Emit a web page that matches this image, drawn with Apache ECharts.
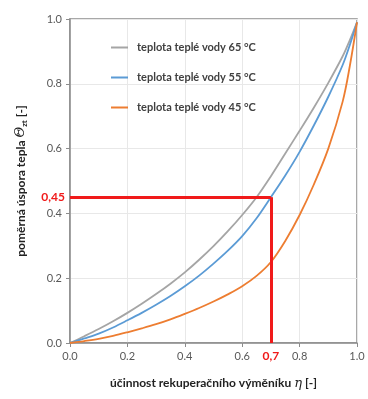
<!DOCTYPE html>
<html>
<head>
<meta charset="utf-8">
<script src="https://cdn.jsdelivr.net/npm/echarts@6/dist/echarts.min.js"></script>
<style>
  html, body { margin: 0; padding: 0; background: #fff; }
  #chart { width: 368px; height: 399px; }
</style>
</head>
<body>
<div id="chart"></div>
<script>
// Heat-recovery efficiency (x) vs. relative heat saving (y)
const efficiency = [0, 0.05, 0.1, 0.15, 0.2, 0.25, 0.3, 0.35, 0.4, 0.45, 0.5, 0.55, 0.6, 0.65, 0.7, 0.75, 0.8, 0.85, 0.9, 0.95, 0.975, 1.0];
const saving65 = [0, 0.021, 0.043, 0.067, 0.093, 0.121, 0.151, 0.183, 0.218, 0.257, 0.299, 0.345, 0.395, 0.45, 0.515, 0.585, 0.655, 0.727, 0.803, 0.885, 0.935, 0.99];
const saving55 = [0, 0.014, 0.029, 0.048, 0.07, 0.093, 0.118, 0.145, 0.175, 0.208, 0.245, 0.285, 0.33, 0.385, 0.45, 0.517, 0.59, 0.672, 0.76, 0.858, 0.92, 0.99];
const saving45 = [0, 0.006, 0.013, 0.022, 0.033, 0.045, 0.058, 0.073, 0.09, 0.108, 0.128, 0.15, 0.175, 0.207, 0.25, 0.315, 0.395, 0.49, 0.6, 0.745, 0.855, 0.99];
const seriesNames = ['teplota teplé vody 65 °C', 'teplota teplé vody 55 °C', 'teplota teplé vody 45 °C'];
const seriesColors = ['#a5a5a5', '#5b9bd5', '#ed7d31'];
const xTicks = [0, 0.2, 0.4, 0.6, 0.8, 1.0];
const yTicks = [0, 0.2, 0.4, 0.6, 0.8, 1.0];
// Highlighted reading: efficiency 0,7 -> saving 0,45
const readX = 0.7;
const readY = 0.45;

const FONT = 'Lato, "Open Sans", sans-serif';
const RED = '#f01a1a';

function pairs(ys) { return efficiency.map((x, i) => [x, ys[i]]); }

const allSeries = [saving65, saving55, saving45].map((ys, i) => ({
  name: seriesNames[i],
  type: 'line',
  data: pairs(ys),
  smooth: 0.35,
  showSymbol: false,
  symbol: 'none',
  lineStyle: { color: seriesColors[i], width: 1.8 },
  itemStyle: { color: seriesColors[i] },
  z: 3
}));

const redLabel = { show: true, position: 'start', color: RED, fontWeight: 'bold', fontSize: 12, fontFamily: FONT };

// Red reading lines drawn on top
allSeries[1].markLine = {
  silent: true,
  symbol: ['none', 'none'],
  lineStyle: { color: RED, width: 3, type: 'solid' },
  z: 5,
  data: [
    [
      { coord: [0, readY], label: Object.assign({}, redLabel, { formatter: '0,45', distance: 5 }) },
      { coord: [readX, readY] }
    ],
    [
      { coord: [readX, 0], label: Object.assign({}, redLabel, { formatter: '0,7', distance: 7 }) },
      { coord: [readX, readY] }
    ]
  ]
};

const chart = echarts.init(document.getElementById('chart'), null, { renderer: 'canvas' });
chart.setOption({
  backgroundColor: '#ffffff',
  animation: false,
  grid: { left: 70, right: 11, top: 19, bottom: 56, containLabel: false, outerBoundsMode: 'none',
          show: true, borderColor: '#8c8c8c', borderWidth: 1.5 },
  legend: {
    orient: 'vertical',
    left: 106,
    top: 37,
    itemWidth: 17,
    itemHeight: 2,
    itemGap: 19,
    icon: 'rect',
    data: seriesNames,
    textStyle: { color: '#404040', fontSize: 11, fontWeight: 'bold', fontFamily: FONT, padding: [0, 0, 0, 4] }
  },
  xAxis: {
    type: 'value',
    min: 0, max: 1, interval: 0.2,
    name: '{t|účinnost rekuperačního výměníku }{g|η}{t| [-]}',
    nameLocation: 'middle',
    nameGap: 34,
    nameTextStyle: {
      rich: {
        t: { fontSize: 12, fontWeight: 'bold', color: '#222', fontFamily: FONT },
        g: { fontSize: 13, fontStyle: 'italic', color: '#222', fontFamily: '"DejaVu Serif", serif' }
      }
    },
    axisLine: { show: true, lineStyle: { color: '#8c8c8c', width: 1.5 } },
    axisTick: { show: true, length: 4, lineStyle: { color: '#8c8c8c' } },
    splitLine: { show: true, lineStyle: { color: '#e8e8e8', width: 1 } },
    axisLabel: { color: '#595959', fontSize: 11, fontFamily: FONT, margin: 8,
      customValues: xTicks, formatter: v => v.toFixed(1) }
  },
  yAxis: {
    type: 'value',
    min: 0, max: 1, interval: 0.2,
    name: '{t|poměrná úspora tepla }{g|Θ}{s|zt}{t| [-]}',
    nameLocation: 'middle',
    nameGap: 42,
    nameRotate: 90,
    nameTextStyle: {
      rich: {
        t: { fontSize: 12, fontWeight: 'bold', color: '#222', fontFamily: FONT },
        g: { fontSize: 13, fontStyle: 'italic', color: '#222', fontFamily: '"DejaVu Serif", serif' },
        s: { fontSize: 8, fontWeight: 'bold', color: '#222', fontFamily: FONT, verticalAlign: 'bottom', padding: [6, 0, 0, 0] }
      }
    },
    axisLine: { show: true, lineStyle: { color: '#8c8c8c', width: 1.5 } },
    axisTick: { show: true, length: 4, lineStyle: { color: '#8c8c8c' } },
    splitLine: { show: true, lineStyle: { color: '#e8e8e8', width: 1 } },
    axisLabel: { color: '#595959', fontSize: 11, fontFamily: FONT, margin: 8,
      customValues: yTicks, formatter: v => v.toFixed(1) }
  },
  series: allSeries
});
</script>
</body>
</html>
